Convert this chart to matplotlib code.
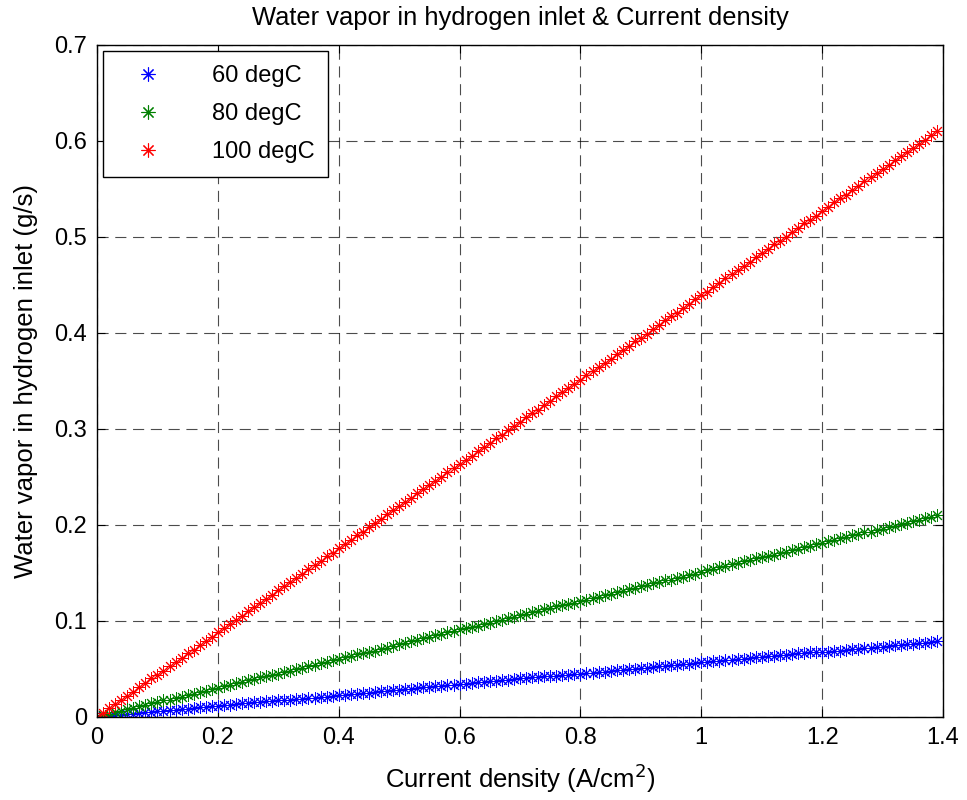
import matplotlib
matplotlib.use("Agg")
import matplotlib.pyplot as plt
from matplotlib.lines import Line2D

# current density (A/cm^2)
x = [0.00, 0.01, 0.02, 0.03, 0.04, 0.05, 0.06, 0.07, 0.08, 0.09,
     0.10, 0.11, 0.12, 0.13, 0.14, 0.15, 0.16, 0.17, 0.18, 0.19,
     0.20, 0.21, 0.22, 0.23, 0.24, 0.25, 0.26, 0.27, 0.28, 0.29,
     0.30, 0.31, 0.32, 0.33, 0.34, 0.35, 0.36, 0.37, 0.38, 0.39,
     0.40, 0.41, 0.42, 0.43, 0.44, 0.45, 0.46, 0.47, 0.48, 0.49,
     0.50, 0.51, 0.52, 0.53, 0.54, 0.55, 0.56, 0.57, 0.58, 0.59,
     0.60, 0.61, 0.62, 0.63, 0.64, 0.65, 0.66, 0.67, 0.68, 0.69,
     0.70, 0.71, 0.72, 0.73, 0.74, 0.75, 0.76, 0.77, 0.78, 0.79,
     0.80, 0.81, 0.82, 0.83, 0.84, 0.85, 0.86, 0.87, 0.88, 0.89,
     0.90, 0.91, 0.92, 0.93, 0.94, 0.95, 0.96, 0.97, 0.98, 0.99,
     1.00, 1.01, 1.02, 1.03, 1.04, 1.05, 1.06, 1.07, 1.08, 1.09,
     1.10, 1.11, 1.12, 1.13, 1.14, 1.15, 1.16, 1.17, 1.18, 1.19,
     1.20, 1.21, 1.22, 1.23, 1.24, 1.25, 1.26, 1.27, 1.28, 1.29,
     1.30, 1.31, 1.32, 1.33, 1.34, 1.35, 1.36, 1.37, 1.38, 1.39]

# water vapor (g/s)
y60 = [0.000, 0.001, 0.001, 0.002, 0.002, 0.003, 0.003, 0.004, 0.005, 0.005,
       0.006, 0.006, 0.007, 0.007, 0.008, 0.008, 0.009, 0.010, 0.010, 0.011,
       0.011, 0.012, 0.012, 0.013, 0.014, 0.014, 0.015, 0.015, 0.016, 0.016,
       0.017, 0.018, 0.018, 0.019, 0.019, 0.020, 0.020, 0.021, 0.021, 0.022,
       0.023, 0.023, 0.024, 0.024, 0.025, 0.025, 0.026, 0.027, 0.027, 0.028,
       0.028, 0.029, 0.029, 0.030, 0.031, 0.031, 0.032, 0.032, 0.033, 0.033,
       0.034, 0.034, 0.035, 0.036, 0.036, 0.037, 0.037, 0.038, 0.038, 0.039,
       0.040, 0.040, 0.041, 0.041, 0.042, 0.042, 0.043, 0.044, 0.044, 0.045,
       0.045, 0.046, 0.046, 0.047, 0.047, 0.048, 0.049, 0.049, 0.050, 0.050,
       0.051, 0.051, 0.052, 0.053, 0.053, 0.054, 0.054, 0.055, 0.055, 0.056,
       0.057, 0.057, 0.058, 0.058, 0.059, 0.059, 0.060, 0.060, 0.061, 0.062,
       0.062, 0.063, 0.063, 0.064, 0.064, 0.065, 0.066, 0.066, 0.067, 0.067,
       0.068, 0.068, 0.069, 0.069, 0.070, 0.071, 0.071, 0.072, 0.072, 0.073,
       0.073, 0.074, 0.075, 0.075, 0.076, 0.076, 0.077, 0.077, 0.078, 0.079]

y80 = [0.000, 0.002, 0.003, 0.005, 0.006, 0.008, 0.009, 0.011, 0.012, 0.014,
       0.015, 0.017, 0.018, 0.020, 0.021, 0.023, 0.024, 0.026, 0.027, 0.029,
       0.030, 0.032, 0.033, 0.035, 0.036, 0.038, 0.039, 0.041, 0.042, 0.044,
       0.045, 0.047, 0.048, 0.050, 0.051, 0.053, 0.054, 0.056, 0.057, 0.059,
       0.060, 0.062, 0.063, 0.065, 0.066, 0.068, 0.069, 0.071, 0.072, 0.074,
       0.076, 0.077, 0.079, 0.080, 0.082, 0.083, 0.085, 0.086, 0.088, 0.089,
       0.091, 0.092, 0.094, 0.095, 0.097, 0.098, 0.100, 0.101, 0.103, 0.104,
       0.106, 0.107, 0.109, 0.110, 0.112, 0.113, 0.115, 0.116, 0.118, 0.119,
       0.121, 0.122, 0.124, 0.125, 0.127, 0.128, 0.130, 0.131, 0.133, 0.134,
       0.136, 0.137, 0.139, 0.140, 0.142, 0.143, 0.145, 0.146, 0.148, 0.149,
       0.151, 0.153, 0.154, 0.156, 0.157, 0.159, 0.160, 0.162, 0.163, 0.165,
       0.166, 0.168, 0.169, 0.171, 0.172, 0.174, 0.175, 0.177, 0.178, 0.180,
       0.181, 0.183, 0.184, 0.186, 0.187, 0.189, 0.190, 0.192, 0.193, 0.195,
       0.196, 0.198, 0.199, 0.201, 0.202, 0.204, 0.205, 0.207, 0.208, 0.210]

y100 = [0.000, 0.004, 0.009, 0.013, 0.018, 0.022, 0.026, 0.031, 0.035, 0.040,
        0.044, 0.048, 0.053, 0.057, 0.061, 0.066, 0.070, 0.075, 0.079, 0.083,
        0.088, 0.092, 0.097, 0.101, 0.105, 0.110, 0.114, 0.119, 0.123, 0.127,
        0.132, 0.136, 0.140, 0.145, 0.149, 0.154, 0.158, 0.162, 0.167, 0.171,
        0.176, 0.180, 0.184, 0.189, 0.193, 0.198, 0.202, 0.206, 0.211, 0.215,
        0.220, 0.224, 0.228, 0.233, 0.237, 0.241, 0.246, 0.250, 0.255, 0.259,
        0.263, 0.268, 0.272, 0.277, 0.281, 0.285, 0.290, 0.294, 0.299, 0.303,
        0.307, 0.312, 0.316, 0.320, 0.325, 0.329, 0.334, 0.338, 0.342, 0.347,
        0.351, 0.356, 0.360, 0.364, 0.369, 0.373, 0.378, 0.382, 0.386, 0.391,
        0.395, 0.399, 0.404, 0.408, 0.413, 0.417, 0.421, 0.426, 0.430, 0.435,
        0.439, 0.443, 0.448, 0.452, 0.457, 0.461, 0.465, 0.470, 0.474, 0.479,
        0.483, 0.487, 0.492, 0.496, 0.500, 0.505, 0.509, 0.514, 0.518, 0.522,
        0.527, 0.531, 0.536, 0.540, 0.544, 0.549, 0.553, 0.558, 0.562, 0.566,
        0.571, 0.575, 0.580, 0.584, 0.588, 0.593, 0.597, 0.601, 0.606, 0.610]

labels = ['60 degC', '80 degC', '100 degC']
colors = ['#0000ff', '#008000', '#ff0000']

plt.rcParams['font.family'] = ['Liberation Sans', 'DejaVu Sans']

fig = plt.figure(figsize=(9.67, 8), dpi=100)
ax = fig.add_axes([0.1003, 0.104, 0.8749, 0.84])

star = (8, 2, 0)  # matlab style asterisk
for ys, c, lab in zip([y60, y80, y100], colors, labels):
    ax.plot(x, ys, linestyle='none', marker=star, markersize=9,
            markeredgewidth=0.7, color=c, label=lab)

ax.set_xlim(0, 1.4)
ax.set_ylim(0, 0.7)
ax.set_xticks([0, 0.2, 0.4, 0.6, 0.8, 1.0, 1.2, 1.4])
ax.set_xticklabels(['0', '0.2', '0.4', '0.6', '0.8', '1', '1.2', '1.4'])
ax.set_yticks([0, 0.1, 0.2, 0.3, 0.4, 0.5, 0.6, 0.7])
ax.set_yticklabels(['0', '0.1', '0.2', '0.3', '0.4', '0.5', '0.6', '0.7'])
ax.tick_params(direction='in', top=True, right=True, length=6,
               labelsize=17, pad=7)
ax.grid(True, color='black', linestyle=(0, (10, 6)), linewidth=0.8, alpha=0.7)
for s in ax.spines.values():
    s.set_linewidth(1.0)

ax.set_title('Water vapor in hydrogen inlet & Current density', fontsize=18.4, pad=14)
ax.set_xlabel('Current density (A/cm$^2$)', fontsize=18.5, labelpad=9)
ax.set_ylabel('Water vapor in hydrogen inlet (g/s)', fontsize=18.5, labelpad=12)

handles = [Line2D([], [], linestyle='none', marker=star, markersize=10,
                  markeredgewidth=0.8, color=c) for c in colors]
leg = ax.legend(handles, labels, loc='upper left', fontsize=17, fancybox=False,
                framealpha=1, edgecolor='black', borderpad=0.6, labelspacing=0.68,
                handletextpad=1.4, handlelength=2.6, borderaxespad=0.25)
leg.get_frame().set_linewidth(1.0)

fig.savefig('out.png', dpi=100)
